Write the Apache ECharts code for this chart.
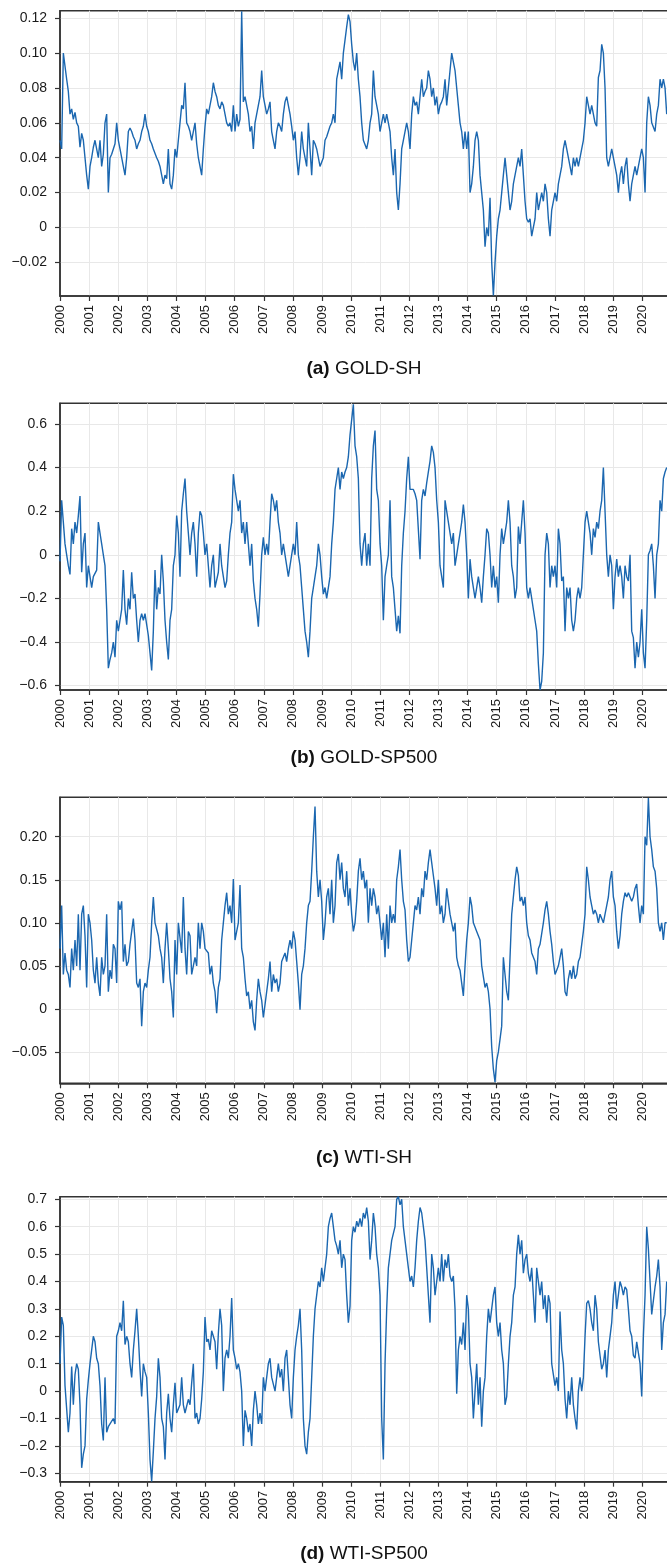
<!DOCTYPE html>
<html>
<head>
<meta charset="utf-8">
<script src="https://cdn.jsdelivr.net/npm/echarts@6/dist/echarts.min.js"></script>
<style>
  html, body { margin: 0; padding: 0; overflow: hidden; background: #fff; }
  #chart { width: 700px; height: 1563px; }
</style>
</head>
<body>
<div id="chart"></div>
<script>
// sampled series, one value every STEP years starting at START_YEAR
var START_YEAR = 2000;
var STEP = 0.05725;
var years = [2000, 2001, 2002, 2003, 2004, 2005, 2006, 2007, 2008, 2009, 2010,
  2011, 2012, 2013, 2014, 2015, 2016, 2017, 2018, 2019, 2020];

var goldSh = [
  0.050, 0.045, 0.100, 0.100, 0.085, 0.078, 0.065, 0.068, 0.062, 0.066,
  0.060, 0.058, 0.046, 0.054, 0.050, 0.040, 0.030, 0.022, 0.035, 0.040,
  0.046, 0.050, 0.050, 0.040, 0.050, 0.035, 0.042, 0.060, 0.065, 0.020,
  0.040, 0.042, 0.045, 0.048, 0.060, 0.050, 0.045, 0.040, 0.035, 0.030,
  0.040, 0.055, 0.057, 0.055, 0.052, 0.050, 0.045, 0.048, 0.050, 0.055,
  0.058, 0.065, 0.058, 0.055, 0.050, 0.048, 0.045, 0.045, 0.040, 0.038,
  0.035, 0.030, 0.025, 0.030, 0.028, 0.045, 0.025, 0.022, 0.030, 0.045,
  0.040, 0.050, 0.060, 0.070, 0.068, 0.083, 0.060, 0.058, 0.055, 0.050,
  0.050, 0.060, 0.048, 0.040, 0.035, 0.030, 0.045, 0.058, 0.068, 0.065,
  0.066, 0.075, 0.083, 0.078, 0.075, 0.070, 0.068, 0.072, 0.070, 0.065,
  0.060, 0.058, 0.060, 0.055, 0.070, 0.055, 0.065, 0.058, 0.062, 0.124,
  0.072, 0.075, 0.076, 0.065, 0.055, 0.058, 0.045, 0.060, 0.065, 0.070,
  0.075, 0.090, 0.075, 0.070, 0.065, 0.068, 0.072, 0.055, 0.050, 0.045,
  0.055, 0.060, 0.058, 0.055, 0.065, 0.072, 0.075, 0.070, 0.065, 0.058,
  0.050, 0.055, 0.040, 0.030, 0.040, 0.055, 0.045, 0.040, 0.035, 0.060,
  0.045, 0.030, 0.050, 0.048, 0.045, 0.040, 0.035, 0.035, 0.040, 0.050,
  0.052, 0.055, 0.058, 0.060, 0.065, 0.060, 0.085, 0.090, 0.095, 0.085,
  0.100, 0.100, 0.115, 0.122, 0.118, 0.105, 0.095, 0.090, 0.100, 0.085,
  0.075, 0.060, 0.050, 0.050, 0.045, 0.050, 0.060, 0.065, 0.090, 0.075,
  0.070, 0.065, 0.055, 0.060, 0.065, 0.060, 0.065, 0.060, 0.055, 0.040,
  0.030, 0.045, 0.020, 0.010, 0.025, 0.045, 0.050, 0.050, 0.060, 0.055,
  0.045, 0.065, 0.075, 0.070, 0.072, 0.065, 0.075, 0.085, 0.075, 0.078,
  0.080, 0.090, 0.085, 0.075, 0.080, 0.070, 0.075, 0.065, 0.070, 0.072,
  0.075, 0.085, 0.070, 0.080, 0.090, 0.100, 0.100, 0.090, 0.080, 0.070,
  0.060, 0.055, 0.045, 0.055, 0.045, 0.055, 0.020, 0.025, 0.035, 0.050,
  0.055, 0.050, 0.030, 0.020, 0.010, -0.011, 0.000, -0.005, 0.017, -0.020,
  -0.039, -0.020, -0.005, 0.005, 0.010, 0.020, 0.030, 0.040, 0.030, 0.020,
  0.010, 0.015, 0.025, 0.030, 0.035, 0.040, 0.035, 0.045, 0.030, 0.015,
  0.005, 0.003, 0.005, -0.005, 0.000, 0.005, 0.020, 0.010, 0.015, 0.020,
  0.015, 0.025, 0.020, 0.005, -0.005, 0.010, 0.015, 0.020, 0.015, 0.025,
  0.030, 0.035, 0.045, 0.050, 0.045, 0.040, 0.035, 0.030, 0.040, 0.035,
  0.040, 0.035, 0.040, 0.045, 0.050, 0.060, 0.075, 0.070, 0.065, 0.070,
  0.065, 0.060, 0.058, 0.086, 0.090, 0.105, 0.100, 0.080, 0.040, 0.035,
  0.040, 0.045, 0.040, 0.035, 0.030, 0.020, 0.030, 0.035, 0.025, 0.035,
  0.040, 0.025, 0.015, 0.025, 0.030, 0.035, 0.030, 0.035, 0.035, 0.045,
  0.040, 0.020, 0.060, 0.075, 0.070, 0.060, 0.060, 0.055, 0.065, 0.070,
  0.085, 0.080, 0.085, 0.080, 0.065
];

var goldSp500 = [
  -0.03, 0.25, 0.15, 0.05, 0.00, -0.05, -0.09, 0.12, 0.05, 0.15,
  0.10, 0.18, 0.27, -0.08, 0.05, 0.10, -0.15, -0.05, -0.05, -0.15,
  -0.10, -0.10, -0.07, 0.15, 0.10, 0.05, 0.00, -0.05, -0.25, -0.52,
  -0.48, -0.45, -0.40, -0.47, -0.30, -0.35, -0.30, -0.25, -0.07, -0.25,
  -0.32, -0.20, -0.25, -0.08, -0.20, -0.18, -0.30, -0.40, -0.30, -0.27,
  -0.30, -0.27, -0.32, -0.37, -0.45, -0.53, -0.35, -0.07, -0.25, -0.15,
  -0.18, 0.00, -0.12, -0.30, -0.40, -0.48, -0.30, -0.25, -0.05, 0.00,
  0.18, 0.10, -0.10, 0.20, 0.28, 0.35, 0.20, 0.10, 0.00, 0.10,
  0.15, 0.05, -0.10, 0.10, 0.20, 0.18, 0.10, 0.00, 0.05, -0.05,
  -0.15, -0.05, 0.00, -0.15, -0.15, -0.08, 0.05, -0.05, -0.10, -0.15,
  -0.12, 0.00, 0.10, 0.15, 0.37, 0.30, 0.25, 0.20, 0.25, 0.10,
  0.15, 0.05, 0.15, 0.05, -0.05, 0.05, -0.12, -0.20, -0.25, -0.33,
  -0.18, 0.00, 0.08, 0.00, 0.05, 0.00, 0.15, 0.28, 0.25, 0.20,
  0.25, 0.15, 0.10, 0.00, 0.05, 0.00, -0.05, -0.10, -0.05, 0.00,
  0.05, 0.00, 0.15, 0.00, -0.05, -0.15, -0.25, -0.35, -0.40, -0.47,
  -0.35, -0.20, -0.15, -0.15, -0.05, 0.05, 0.00, -0.10, -0.18, -0.15,
  -0.20, -0.15, -0.10, 0.05, 0.15, 0.30, 0.35, 0.40, 0.30, 0.38,
  0.35, 0.38, 0.40, 0.45, 0.55, 0.62, 0.69, 0.50, 0.45, 0.35,
  0.05, -0.05, 0.05, 0.10, -0.05, 0.05, -0.05, 0.35, 0.50, 0.57,
  0.30, 0.25, 0.05, -0.05, -0.30, -0.10, -0.05, 0.00, 0.25, -0.10,
  -0.15, -0.25, -0.35, -0.28, -0.36, -0.05, 0.10, 0.20, 0.35, 0.45,
  0.30, 0.30, 0.30, 0.28, 0.25, 0.25, -0.02, 0.25, 0.30, 0.27,
  0.33, 0.38, 0.43, 0.50, 0.47, 0.40, 0.25, 0.15, -0.05, -0.10,
  -0.15, 0.25, 0.25, 0.15, 0.15, 0.05, 0.10, -0.05, 0.00, 0.05,
  0.10, 0.15, 0.23, 0.15, 0.00, -0.20, -0.02, -0.10, -0.15, -0.20,
  -0.15, -0.10, -0.15, -0.22, -0.10, 0.00, 0.12, 0.10, 0.00, -0.15,
  -0.05, -0.15, -0.10, -0.22, 0.00, 0.12, 0.05, 0.10, 0.15, 0.25,
  0.15, -0.05, -0.10, -0.20, -0.15, 0.13, 0.05, 0.15, 0.25, 0.10,
  -0.15, -0.20, -0.15, -0.20, -0.25, -0.30, -0.35, -0.50, -0.62, -0.58,
  -0.45, 0.00, 0.10, 0.05, -0.15, -0.05, -0.10, -0.05, -0.15, 0.12,
  0.05, -0.12, -0.10, -0.35, -0.15, -0.20, -0.15, -0.30, -0.35, -0.30,
  -0.20, -0.15, -0.20, -0.15, 0.00, 0.15, 0.20, 0.15, 0.10, 0.00,
  0.12, 0.08, 0.15, 0.12, 0.20, 0.25, 0.40, 0.20, 0.00, -0.10,
  0.00, -0.05, -0.25, -0.10, -0.02, -0.10, -0.05, -0.10, -0.20, -0.05,
  -0.10, -0.12, 0.00, -0.35, -0.38, -0.52, -0.40, -0.47, -0.40, -0.25,
  -0.45, -0.52, -0.30, 0.00, 0.02, 0.05, -0.05, -0.20, 0.00, 0.05,
  0.25, 0.20, 0.35, 0.38, 0.40
];

var wtiSh = [
  0.07, 0.12, 0.04, 0.065, 0.045, 0.04, 0.025, 0.07, 0.045, 0.08,
  0.05, 0.11, 0.045, 0.11, 0.12, 0.085, 0.025, 0.11, 0.10, 0.08,
  0.045, 0.03, 0.06, 0.03, 0.015, 0.06, 0.04, 0.05, 0.11, 0.02,
  0.045, 0.035, 0.075, 0.07, 0.03, 0.125, 0.115, 0.125, 0.055, 0.075,
  0.05, 0.055, 0.075, 0.09, 0.105, 0.08, 0.03, 0.025, 0.035, -0.02,
  0.02, 0.03, 0.025, 0.045, 0.06, 0.10, 0.13, 0.10, 0.10, 0.085,
  0.07, 0.06, 0.03, 0.07, 0.10, 0.07, 0.035, 0.02, -0.01, 0.08,
  0.04, 0.10, 0.10, 0.065, 0.13, 0.07, 0.04, 0.09, 0.085, 0.04,
  0.05, 0.06, 0.05, 0.10, 0.07, 0.10, 0.09, 0.07, 0.07, 0.065,
  0.04, 0.05, 0.03, 0.02, -0.005, 0.025, 0.035, 0.08, 0.10, 0.12,
  0.135, 0.11, 0.12, 0.10, 0.151, 0.08, 0.09, 0.10, 0.144, 0.07,
  0.06, 0.035, 0.015, 0.02, 0.00, 0.01, -0.015, -0.025, 0.01, 0.035,
  0.02, 0.01, -0.01, 0.005, 0.02, 0.035, 0.055, 0.02, 0.04, 0.03,
  0.035, 0.02, 0.03, 0.055, 0.06, 0.065, 0.055, 0.07, 0.08, 0.07,
  0.09, 0.08, 0.055, 0.03, -0.001, 0.04, 0.05, 0.07, 0.10, 0.12,
  0.125, 0.16, 0.20, 0.235, 0.16, 0.13, 0.15, 0.125, 0.08, 0.10,
  0.13, 0.14, 0.11, 0.15, 0.10, 0.12, 0.17, 0.18, 0.15, 0.17,
  0.14, 0.13, 0.16, 0.12, 0.14, 0.11, 0.09, 0.10, 0.125, 0.16,
  0.175, 0.15, 0.16, 0.14, 0.15, 0.10, 0.14, 0.12, 0.14, 0.13,
  0.11, 0.12, 0.10, 0.08, 0.10, 0.06, 0.11, 0.07, 0.12, 0.10,
  0.11, 0.10, 0.15, 0.165, 0.185, 0.15, 0.125, 0.115, 0.08, 0.055,
  0.06, 0.08, 0.10, 0.12, 0.115, 0.13, 0.11, 0.14, 0.13, 0.16,
  0.15, 0.17, 0.185, 0.17, 0.155, 0.14, 0.12, 0.15, 0.11, 0.12,
  0.10, 0.11, 0.14, 0.125, 0.11, 0.11, 0.09, 0.10, 0.06, 0.05,
  0.045, 0.03, 0.015, 0.05, 0.08, 0.10, 0.13, 0.12, 0.10, 0.10,
  0.09, 0.09, 0.08, 0.05, 0.05, 0.025, 0.03, 0.02, 0.00, -0.044,
  -0.07, -0.085, -0.06, -0.05, -0.035, -0.02, 0.06, 0.04, 0.02, 0.01,
  0.06, 0.11, 0.13, 0.15, 0.165, 0.155, 0.125, 0.13, 0.12, 0.13,
  0.10, 0.085, 0.08, 0.065, 0.065, 0.055, 0.04, 0.07, 0.075, 0.075,
  0.10, 0.115, 0.125, 0.11, 0.09, 0.075, 0.055, 0.04, 0.045, 0.05,
  0.06, 0.07, 0.05, 0.02, 0.015, 0.035, 0.045, 0.035, 0.05, 0.035,
  0.04, 0.055, 0.06, 0.075, 0.09, 0.11, 0.165, 0.15, 0.13, 0.12,
  0.11, 0.115, 0.11, 0.10, 0.11, 0.105, 0.10, 0.11, 0.12, 0.13,
  0.15, 0.16, 0.13, 0.12, 0.09, 0.07, 0.085, 0.11, 0.125, 0.135,
  0.13, 0.135, 0.13, 0.125, 0.13, 0.14, 0.145, 0.12, 0.10, 0.12,
  0.11, 0.20, 0.19, 0.245, 0.20, 0.185, 0.165, 0.16, 0.14, 0.10,
  0.09, 0.10, 0.08, 0.10, 0.10
];

var wtiSp500 = [
  0.10, 0.27, 0.24, 0.02, 0.02, -0.15, -0.08, 0.09, -0.05, 0.06,
  0.10, 0.08, -0.05, -0.28, -0.23, -0.20, -0.03, 0.04, 0.10, 0.10,
  0.20, 0.18, 0.12, 0.10, 0.02, -0.12, -0.18, 0.05, -0.15, -0.13,
  -0.12, -0.12, -0.10, -0.12, 0.20, 0.22, 0.25, 0.22, 0.33, 0.17,
  0.20, 0.18, 0.10, 0.05, 0.15, 0.22, 0.30, 0.20, 0.08, -0.02,
  0.10, 0.07, 0.05, -0.08, -0.25, -0.33, -0.22, -0.10, -0.02, 0.12,
  0.05, -0.10, -0.13, -0.25, -0.08, -0.01, -0.10, -0.15, -0.05, 0.03,
  -0.08, -0.08, -0.05, 0.05, -0.05, -0.08, -0.08, -0.03, -0.05, 0.03,
  0.10, -0.10, -0.08, -0.12, -0.10, -0.03, 0.07, 0.27, 0.18, 0.19,
  0.15, 0.22, 0.22, 0.18, 0.08, 0.21, 0.30, 0.24, 0.00, 0.12,
  0.15, 0.12, 0.20, 0.34, 0.15, 0.12, 0.08, 0.10, 0.07, 0.00,
  -0.20, -0.07, -0.10, -0.15, -0.12, -0.20, -0.07, 0.00, -0.05, -0.12,
  -0.08, -0.12, 0.05, 0.00, 0.05, 0.10, 0.12, 0.05, 0.05, 0.00,
  0.05, 0.10, 0.05, 0.08, 0.00, 0.12, 0.15, 0.05, -0.05, -0.10,
  0.05, 0.15, 0.20, 0.24, 0.30, 0.15, -0.10, -0.20, -0.23, -0.15,
  -0.10, 0.05, 0.20, 0.30, 0.30, 0.40, 0.38, 0.45, 0.40, 0.40,
  0.50, 0.60, 0.63, 0.65, 0.60, 0.55, 0.53, 0.50, 0.55, 0.45,
  0.50, 0.48, 0.35, 0.25, 0.31, 0.55, 0.60, 0.58, 0.62, 0.60,
  0.63, 0.60, 0.65, 0.63, 0.67, 0.62, 0.48, 0.55, 0.65, 0.60,
  0.50, 0.45, 0.35, -0.10, -0.25, 0.10, 0.30, 0.45, 0.45, 0.55,
  0.55, 0.60, 0.70, 0.71, 0.68, 0.70, 0.60, 0.55, 0.50, 0.45,
  0.40, 0.42, 0.38, 0.45, 0.55, 0.62, 0.67, 0.65, 0.60, 0.55,
  0.45, 0.35, 0.25, 0.50, 0.45, 0.35, 0.40, 0.45, 0.40, 0.50,
  0.40, 0.48, 0.45, 0.50, 0.42, 0.40, 0.42, 0.30, -0.01, 0.15,
  0.20, 0.17, 0.25, 0.15, 0.35, 0.30, 0.10, 0.05, -0.10, 0.00,
  0.10, -0.05, 0.05, -0.13, 0.00, 0.05, 0.20, 0.30, 0.25, 0.30,
  0.35, 0.38, 0.25, 0.20, 0.25, 0.15, 0.10, -0.05, -0.02, 0.10,
  0.20, 0.25, 0.35, 0.38, 0.50, 0.57, 0.50, 0.55, 0.43, 0.48,
  0.50, 0.43, 0.40, 0.45, 0.35, 0.25, 0.45, 0.40, 0.35, 0.40,
  0.30, 0.35, 0.25, 0.35, 0.32, 0.10, 0.10, 0.02, 0.05, 0.00,
  0.29, 0.15, 0.10, -0.03, -0.10, 0.00, -0.05, 0.05, -0.05, -0.10,
  -0.14, 0.00, 0.05, 0.00, 0.05, 0.20, 0.32, 0.33, 0.30, 0.25,
  0.22, 0.35, 0.30, 0.18, 0.13, 0.08, 0.10, 0.15, 0.05, 0.15,
  0.20, 0.25, 0.35, 0.40, 0.30, 0.30, 0.40, 0.38, 0.35, 0.38,
  0.37, 0.30, 0.22, 0.20, 0.13, 0.12, 0.18, 0.18, 0.10, -0.02,
  0.20, 0.35, 0.60, 0.52, 0.40, 0.28, 0.28, 0.38, 0.42, 0.48,
  0.38, 0.15, 0.25, 0.28, 0.40
];

var panelTags = ['(a)', '(b)', '(c)', '(d)'];
var panelNames = ['GOLD-SH', 'GOLD-SP500', 'WTI-SH', 'WTI-SP500'];

var FONT = '"Liberation Sans", Arial, Helvetica, sans-serif';
var LINE_COLOR = '#1b67b0';

// layout of each panel (pixels) and its y range
var panels = [
  { data: goldSh,    top: 10.7,   height: 285.3, min: -0.0393, max: 0.1243, split: 8,  dec: 2, titleY: 368 },
  { data: goldSp500, top: 403.3,  height: 286.7, min: -0.62,   max: 0.695,  split: 6,  dec: 1, titleY: 757 },
  { data: wtiSh,     top: 797.3,  height: 286,   min: -0.0864, max: 0.2458, split: 7,  dec: 2, titleY: 1157 },
  { data: wtiSp500,  top: 1196.7, height: 285,   min: -0.3307, max: 0.7095, split: 10, dec: 1, titleY: 1553 }
];

function toPairs(arr) {
  return arr.map(function (v, i) { return [START_YEAR + i * STEP, v]; });
}

function yFormatter(dec) {
  return function (v) {
    if (Math.abs(v) < 1e-9) return '0';
    var s = Math.abs(v).toFixed(dec);
    return v < 0 ? '\u2212' + s : s;
  };
}

var axisLineStyle = { color: '#333', width: 1.5 };
var gridLineStyle = { color: '#e8e8e8', width: 1 };

var option = {
  animation: false,
  backgroundColor: '#fff',
  title: [],
  grid: [],
  xAxis: [],
  yAxis: [],
  series: []
};

panels.forEach(function (p, k) {
  option.grid.push({
    left: 60, top: p.top, width: 611.4, height: p.height,
    show: true, borderColor: '#333', borderWidth: 1.5, containLabel: false
  });
  option.xAxis.push({
    type: 'value', gridIndex: k,
    min: years[0], max: 2021, interval: 1,
    axisLine: { show: true, onZero: false, lineStyle: axisLineStyle },
    axisTick: { show: true, length: 5, lineStyle: { color: '#333', width: 1.2 } },
    axisLabel: {
      rotate: 90, margin: 9, fontSize: 13, color: '#1a1a1a', fontFamily: FONT,
      formatter: function (v) { return years.indexOf(v) >= 0 ? String(v) : ''; }
    },
    splitLine: { show: true, showMinLine: false, showMaxLine: false, lineStyle: gridLineStyle }
  });
  option.yAxis.push({
    type: 'value', gridIndex: k,
    min: p.min, max: p.max, splitNumber: p.split,
    axisLine: { show: true, onZero: false, lineStyle: axisLineStyle },
    axisTick: { show: true, length: 5, lineStyle: { color: '#333', width: 1.2 } },
    axisLabel: {
      margin: 13, fontSize: 14, color: '#1a1a1a', fontFamily: FONT,
      showMinLabel: false, showMaxLabel: false,
      formatter: yFormatter(p.dec)
    },
    splitLine: { show: true, showMinLine: false, showMaxLine: false, lineStyle: gridLineStyle }
  });
  option.series.push({
    type: 'line', xAxisIndex: k, yAxisIndex: k,
    data: toPairs(p.data),
    showSymbol: false, symbol: 'none', silent: true, clip: true,
    lineStyle: { color: LINE_COLOR, width: 1.4 }
  });
  option.title.push({
    text: '{b|' + panelTags[k] + '} ' + panelNames[k],
    left: 364, top: p.titleY - 9, textAlign: 'center', padding: 0,
    textStyle: {
      fontSize: 19, fontWeight: 'normal', color: '#111', fontFamily: FONT,
      rich: { b: { fontSize: 19, fontWeight: 'bold', color: '#111', fontFamily: FONT } }
    }
  });
});

var chart = echarts.init(document.getElementById('chart'), null, { renderer: 'canvas' });
chart.setOption(option);
</script>
</body>
</html>
